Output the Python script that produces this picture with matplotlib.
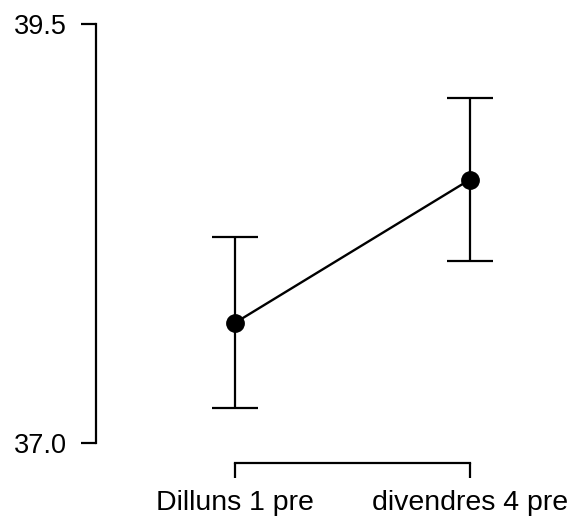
import numpy as np
import matplotlib
matplotlib.use("Agg")
import matplotlib.pyplot as plt

plt.rcParams['font.family'] = ['Liberation Sans', 'DejaVu Sans']

labels = ["Dilluns 1 pre", "divendres 4 pre"]
means = [37.717, 38.572]
ci_low = [37.207, 38.086]
ci_high = [38.227, 39.058]
yticks = [37.0, 39.5]

fig = plt.figure(figsize=(5.71, 5.18), dpi=100)
ax = fig.add_axes([96/571, 1 - 443/518, (560 - 96)/571, (443 - 24)/518])

x = np.arange(len(labels))
m = np.array(means)
yerr = np.array([m - np.array(ci_low), np.array(ci_high) - m])

ax.errorbar(x, m, yerr=yerr, fmt='none', ecolor='black', elinewidth=1.6,
            capsize=16.5, capthick=1.6, zorder=2)
ax.plot(x, m, color='black', lw=1.7, marker='o', markersize=12.5, zorder=3)

ax.set_xlim(-(235 - 96)/235, 1 + (560 - 470)/235)
ax.set_ylim(yticks[0], yticks[-1])
ax.set_yticks(yticks)
ax.set_yticklabels([f"{v:.1f}" for v in yticks])
ax.set_xticks(x)
ax.set_xticklabels(labels)

for s in ['top', 'right']:
    ax.spines[s].set_visible(False)
ax.spines['left'].set_bounds(yticks[0], yticks[-1])
ax.spines['bottom'].set_bounds(0, 1)
ax.spines['bottom'].set_position(('outward', 14.5))
for s in ['left', 'bottom']:
    ax.spines[s].set_linewidth(1.6)

ax.tick_params(axis='both', length=11, width=1.6, colors='black')
ax.tick_params(axis='y', pad=10, labelsize=19.5)
ax.tick_params(axis='x', pad=8, labelsize=20.5)

fig.savefig("out.png", dpi=100)
